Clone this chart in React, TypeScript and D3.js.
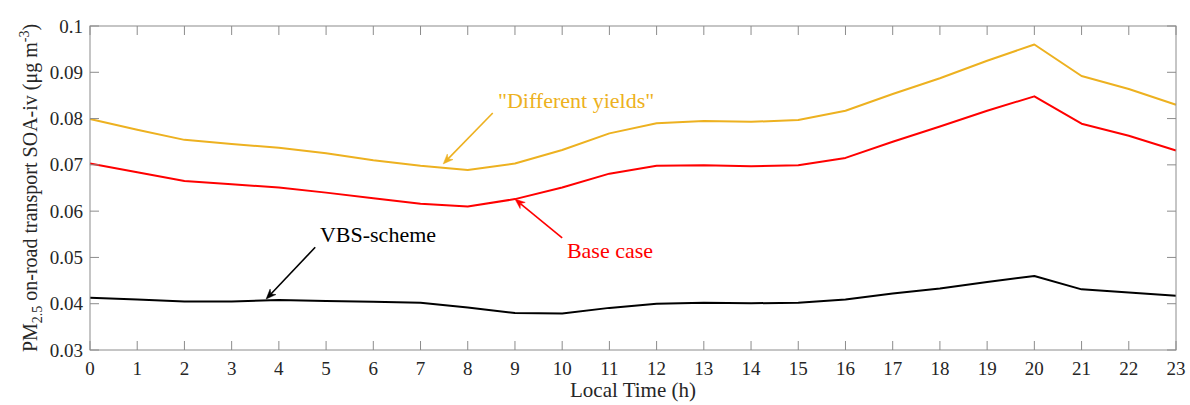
import * as d3 from "d3";

const hours = d3.range(0, 24);
const yTicks = [0.03, 0.04, 0.05, 0.06, 0.07, 0.08, 0.09, 0.1];

const differentYields = [
  0.0799, 0.0776, 0.0754, 0.0745, 0.0737, 0.0725, 0.071, 0.0698, 0.0689, 0.0703, 0.0732, 0.0768,
  0.079, 0.0795, 0.0793, 0.0797, 0.0817, 0.0853, 0.0887, 0.0925, 0.096, 0.0892, 0.0864, 0.083,
];
const baseCase = [
  0.0703, 0.0684, 0.0665, 0.0658, 0.0651, 0.064, 0.0628, 0.0616, 0.061, 0.0626, 0.0651, 0.0681,
  0.0698, 0.0699, 0.0697, 0.0699, 0.0715, 0.075, 0.0783, 0.0817, 0.0848, 0.0789, 0.0763, 0.0731,
];
const vbsScheme = [
  0.0413, 0.0409, 0.0405, 0.0405, 0.0408, 0.0406, 0.0404, 0.0402, 0.0392, 0.038, 0.0379, 0.0391,
  0.04, 0.0402, 0.0401, 0.0402, 0.0409, 0.0422, 0.0433, 0.0447, 0.046, 0.0431, 0.0424, 0.0417,
];

const series = [
  { name: "Different yields", values: differentYields, color: "#EDB120" },
  { name: "Base case", values: baseCase, color: "#FF0000" },
  { name: "VBS-scheme", values: vbsScheme, color: "#000000" },
];

// annotation: text position + arrow tail -> tip, in data units
const notes = [
  { label: "\"Different yields\"", color: "#EDB120", text: [8.64, 0.0823], from: [8.53, 0.0812], to: [7.48, 0.0702] },
  { label: "Base case", color: "#FF0000", text: [10.1, 0.0499], from: [10.0, 0.0542], to: [9.0, 0.0626] },
  { label: "VBS-scheme", color: "#000000", text: [4.87, 0.0533], from: [4.77, 0.0522], to: [3.73, 0.041] },
];

const W = 1190;
const H = 405;
const m = { left: 90, right: 1176, top: 26, bottom: 350 };
const font = "'Liberation Serif', 'Times New Roman', serif";
const axisColor = "#8c8c8c";
const textColor = "#262626";

const Arrow = ({ x1, y1, x2, y2, color }) => {
  const ang = Math.atan2(y2 - y1, x2 - x1);
  const len = 10, half = 4;
  const bx = x2 - len * Math.cos(ang), by = y2 - len * Math.sin(ang);
  const nx = -Math.sin(ang), ny = Math.cos(ang);
  const bx2 = x2 - len * 0.7 * Math.cos(ang), by2 = y2 - len * 0.7 * Math.sin(ang);
  const head = `M${x2},${y2} L${bx + nx * half},${by + ny * half} L${bx2},${by2} L${bx - nx * half},${by - ny * half} Z`;
  return (
    <g>
      <line x1={x1} y1={y1} x2={bx2} y2={by2} stroke={color} strokeWidth={1.6} />
      <path d={head} fill={color} stroke={color} strokeWidth={0.5} />
    </g>
  );
};

export default function App() {
  const x = d3.scaleLinear().domain([0, 23]).range([m.left, m.right]);
  const y = d3.scaleLinear().domain([0.03, 0.1]).range([m.bottom, m.top]);

  const line = d3
    .line<number>()
    .x((_, i) => x(hours[i]))
    .y((d) => y(d));

  const tickLen = 9;

  return (
    <svg width={W} height={H} style={{ position: "absolute", left: 0, top: 0, background: "#fff" }} fontFamily={font}>
      {/* lines */}
      {series.map((s) => (
        <path key={s.name} d={line(s.values) || ""} fill="none" stroke={s.color} strokeWidth={2} strokeLinejoin="round" />
      ))}

      {/* box */}
      <rect x={m.left} y={m.top} width={m.right - m.left} height={m.bottom - m.top} fill="none" stroke={axisColor} strokeWidth={1} />

      {/* x ticks */}
      {hours.map((h) => (
        <g key={h}>
          <line x1={x(h)} x2={x(h)} y1={m.bottom} y2={m.bottom - tickLen} stroke={axisColor} />
          <line x1={x(h)} x2={x(h)} y1={m.top} y2={m.top + tickLen} stroke={axisColor} />
          <text x={x(h)} y={m.bottom + 25} textAnchor="middle" fontSize={19} fill={textColor}>
            {h}
          </text>
        </g>
      ))}

      {/* y ticks */}
      {yTicks.map((t) => (
        <g key={t}>
          <line x1={m.left} x2={m.left + tickLen} y1={y(t)} y2={y(t)} stroke={axisColor} />
          <line x1={m.right} x2={m.right - tickLen} y1={y(t)} y2={y(t)} stroke={axisColor} />
          <text x={m.left - 7} y={y(t) + 6.5} textAnchor="end" fontSize={19} fill={textColor}>
            {d3.format("~g")(t)}
          </text>
        </g>
      ))}

      {/* axis labels */}
      <text x={(m.left + m.right) / 2} y={397} textAnchor="middle" fontSize={21} fill={textColor}>
        Local Time (h)
      </text>
      <text
        transform={`translate(37, ${(m.top + m.bottom) / 2}) rotate(-90)`}
        textAnchor="middle"
        fontSize={20}
        fill={textColor}
      >
        PM<tspan fontSize={14} dy={5}>2.5</tspan>
        <tspan dy={-5}> on-road transport SOA-iv (μg m</tspan>
        <tspan fontSize={14} dy={-8}>-3</tspan>
        <tspan dy={8}>)</tspan>
      </text>

      {/* annotations */}
      {notes.map((n) => (
        <g key={n.label}>
          <Arrow x1={x(n.from[0])} y1={y(n.from[1])} x2={x(n.to[0])} y2={y(n.to[1])} color={n.color} />
          <text x={x(n.text[0])} y={y(n.text[1])} fontSize={22} fill={n.color}>
            {n.label}
          </text>
        </g>
      ))}
    </svg>
  );
}
